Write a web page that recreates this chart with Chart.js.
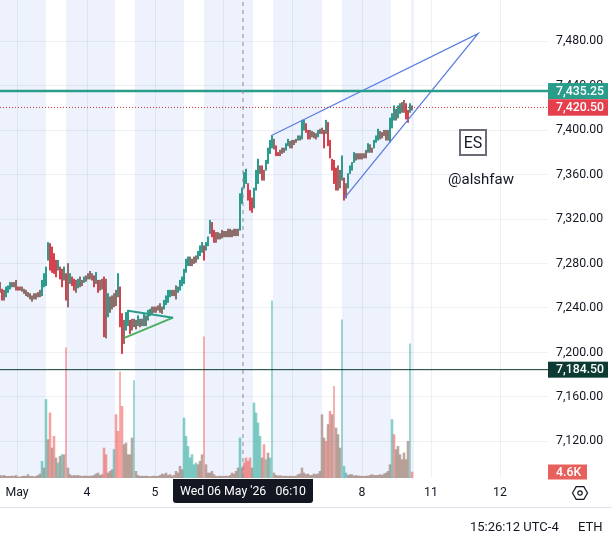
<!DOCTYPE html>
<html>
<head>
<meta charset="utf-8">
<script src="https://cdn.jsdelivr.net/npm/chart.js@4"></script>
<style>
  html, body { margin: 0; padding: 0; background: #fff; width: 612px; height: 534px; overflow: hidden; }
  canvas { position: absolute; left: 0; top: 0; }
  .note { position: absolute; font-family: Roboto, sans-serif; color: #131722; white-space: nowrap; }
  #es { left: 459px; top: 129px; width: 24px; height: 23px; border: 2px solid #6a6d78; font-size: 16px; line-height: 23px; text-align: center; }
  #author { left: 448px; top: 170px; font-size: 15px; }
  #clock { left: 470px; top: 519px; font-size: 13px; }
  #session { left: 578px; top: 519px; font-size: 13px; }
  #rule { position: absolute; left: 0; top: 507px; width: 612px; height: 1px; background: #e0e3eb; }
  #gear { position: absolute; left: 571px; top: 484px; }
</style>
</head>
<body>
<canvas id="myChart" width="612" height="534"></canvas>
<div id="rule"></div>
<div class="note" id="es">ES</div>
<div class="note" id="author">@alshfaw</div>
<div class="note" id="clock">15:26:12 UTC-4</div>
<div class="note" id="session">ETH</div>
<svg id="gear" width="18" height="18" viewBox="0 0 18 18"><path d="M1.5 9 L5.2 2.6 H12.8 L16.5 9 L12.8 15.4 H5.2 Z" fill="none" stroke="#131722" stroke-width="1.2"/><circle cx="9" cy="9" r="2.2" fill="none" stroke="#131722" stroke-width="1.2"/></svg>
<script>
// x axis is the bar number, one bar every two pixels or so
const xTickValues = [8.5, 43.5, 77.5, 111.5, 146, 181, 215.5, 250];
const xTickLabels = ['May', '4', '5', '6', '7', '8', '11', '12'];
const priceTicks = [7120, 7160, 7200, 7240, 7280, 7320, 7360, 7400, 7440, 7480];

const sessionBands = [[0, 23], [33, 57.5], [67.5, 92], [102, 126.5], [136.5, 161], [171, 195.5], [205.5, 207]];

const highs = [
  7263,7257,7256,7259,7260,7263,7263,7263,7265,7259,7259,7259,7257,7256,7254,7253,7251,7253,7253,7254,
  7256,7265,7271,7277,7299,7298,7295,7289,7283,7283,7277,7275,7277,7271,7280,7271,7268,7266,7265,7266,
  7268,7265,7268,7269,7271,7273,7271,7269,7272,7265,7265,7266,7268,7266,7253,7250,7251,7253,7256,7271,
  7259,7235,7229,7236,7238,7229,7230,7230,7229,7233,7230,7230,7235,7233,7238,7239,7241,7241,7241,7242,
  7244,7241,7247,7251,7256,7256,7256,7256,7260,7259,7265,7268,7275,7284,7286,7286,7284,7286,7287,7291,
  7296,7299,7296,7299,7304,7319,7317,7310,7308,7308,7307,7310,7309,7309,7311,7311,7310,7311,7311,7311,
  7343,7348,7362,7365,7352,7346,7339,7348,7364,7374,7368,7368,7364,7373,7384,7391,7395,7392,7386,7380,
  7382,7384,7384,7388,7392,7390,7391,7391,7392,7395,7395,7409,7409,7406,7400,7400,7399,7398,7397,7400,
  7401,7402,7400,7409,7407,7391,7374,7373,7366,7368,7364,7377,7357,7352,7361,7368,7371,7380,7379,7379,
  7379,7379,7379,7382,7388,7387,7384,7391,7395,7401,7399,7398,7400,7400,7400,7411,7415,7422,7419,7422,
  7424,7425,7427,7424,7418,7424,7422
];
const lows = [
  7254,7247,7247,7250,7254,7257,7259,7259,7256,7256,7256,7255,7253,7251,7250,7248,7246,7248,7248,7250,
  7250,7251,7259,7260,7283,7274,7272,7271,7268,7274,7266,7259,7265,7247,7241,7262,7260,7256,7254,7258,
  7259,7260,7263,7264,7266,7266,7265,7259,7262,7254,7256,7257,7214,7213,7232,7236,7239,7241,7242,7250,
  7223,7199,7208,7220,7224,7217,7220,7223,7221,7224,7223,7224,7224,7224,7229,7233,7235,7236,7236,7238,
  7236,7235,7239,7243,7245,7250,7251,7251,7248,7254,7256,7260,7262,7272,7278,7278,7278,7280,7281,7284,
  7287,7290,7283,7292,7296,7307,7304,7299,7299,7302,7302,7303,7304,7304,7304,7304,7304,7305,7305,7305,
  7310,7334,7348,7352,7337,7328,7326,7330,7346,7352,7361,7355,7355,7364,7370,7379,7384,7383,7377,7377,
  7377,7379,7380,7382,7386,7384,7384,7387,7389,7391,7391,7392,7400,7398,7392,7392,7394,7393,7392,7394,
  7397,7397,7384,7397,7386,7375,7364,7352,7346,7346,7348,7355,7337,7339,7348,7361,7364,7371,7373,7374,
  7374,7374,7375,7375,7380,7380,7380,7384,7389,7391,7392,7393,7395,7391,7391,7389,7402,7409,7409,7411,
  7415,7416,7416,7410,7407,7416,7418
];

// volume in thousands
const volumes = [
  2,1.5,2,1.3,1.3,1.3,1.5,1.3,2,0.8,0.8,1.3,1.5,1.3,2.6,1.3,1.3,1,1.3,2,
  3.1,12.8,7.7,60.2,29.4,49.9,23,32,15.4,11.5,16.6,17.9,17.9,99.8,7.7,2.6,1.5,2,1.8,2,
  1.5,1.3,1.5,1.5,1.3,1.5,1.5,2,3.1,3.8,2,2.6,23,17.9,3.8,5.1,6.4,21.8,48.6,35.8,
  81.4,55,25.6,26.9,17.9,17.9,30.7,74.8,5.1,2,1.3,1.5,1.3,1.5,1.3,1,1.3,1.5,1.3,1.3,
  2,3.1,2.6,3.8,2,2.6,1.5,2,5.1,3.8,9,6.4,46,32,24.3,15.4,17.9,10.2,11.5,10.2,
  12.8,17.9,108.3,10.2,3.8,3.8,5.1,2.6,1.3,1.3,1.5,1.3,1.3,1.5,1.3,2,3.8,3.1,5.1,7.7,
  30.7,7.7,11.5,15.4,12.8,15.4,7.7,57.6,49.9,42.2,32,15.4,25.6,14.1,19.2,15.4,135.9,3.8,2,1.5,
  1.8,1.5,1.3,1.5,1.3,1.5,1.3,1.3,1.5,2.6,3.1,7.7,3.8,2.6,3.1,2,2,3.1,2.6,3.1,
  5.1,48.6,30.7,28.2,41,51.2,48.6,70.4,38.4,33.3,23,121.3,9,3.8,2,2.6,2.6,1.5,2,1.5,
  1.5,1.3,1.3,1.5,1.5,2,2.6,2,2,2,2.6,2,3.1,3.8,5.1,10.2,44.8,33.3,21.8,24.3,
  17.9,14.1,19.2,14.1,28.2,102.9,4.6
];
const volumeUpBars = [21,23,29,31,57,67,92,93,94,95,96,97,98,120,127,128,129,130,133,135,136,171,172,173,196,205];
const volumeDownBars = [25,27,33,52,53,58,59,60,61,102,122,123,124,125,132,163,165,167,197,206];

const lastPrice = 7420.50;
const markedHigh = 7435.25;
const markedLow = 7184.50;
const crosshairBar = 121.5;
const wedgeBars = [135.5, 239, 172];
const wedgePrices = [7395, 7487, 7338.4];
const triangleTopBars = [64, 86.5];
const triangleTopPrices = [7237.6, 7231.3];
const triangleLowBars = [62.5, 86.5];
const triangleLowPrices = [7213.3, 7231.3];

const xMax = 274, priceMin = 7087, priceMax = 7517.2, volumeMax = 366.6;
const spikeSize = 70;

// tint from how the mid of the range moved against the bar before
const candleColors = highs.map((h, i) => {
  if (i == 0) return '#8d6e6a';
  const move = (h + lows[i]) / 2 - (highs[i - 1] + lows[i - 1]) / 2;
  if (move > 2) return '#2a9d8f';
  if (move < -2) return '#d9404d';
  return '#8d6e6a';
});
function volumeColor(i) {
  if (volumeUpBars.includes(i)) return 'rgba(38,166,154,0.55)';
  if (volumeDownBars.includes(i)) return 'rgba(239,83,80,0.55)';
  return 'rgba(160,130,120,0.7)';
}

function lineSet(xs, ys, color, width, dash) {
  return {
    type: 'line',
    data: xs.map((x, i) => ({x: x, y: ys[i]})),
    borderColor: color,
    borderWidth: width,
    borderDash: dash || [],
    pointRadius: 0,
    tension: 0,
    fill: false,
    yAxisID: 'y',
    order: 1
  };
}

function volumeSet(keep, thickness) {
  const bars = volumes.map((val, i) => ({x: i, y: val})).filter((p) => keep(p.y));
  return {
    type: 'bar',
    data: bars,
    backgroundColor: bars.map((p) => volumeColor(p.x)),
    barThickness: thickness,
    grouped: false,
    yAxisID: 'v',
    order: 3
  };
}

function priceLabel(v) {
  return v.toLocaleString('en-US', {minimumFractionDigits: 2, maximumFractionDigits: 2});
}

function tag(ctx, x, y, w, h, color, text) {
  ctx.fillStyle = color;
  ctx.fillRect(x, y - h / 2, w, h);
  ctx.fillStyle = '#fff';
  ctx.font = '500 12.3px Roboto';
  ctx.textAlign = 'left';
  ctx.textBaseline = 'middle';
  ctx.fillText(text, x + 8, y + 0.5);
}

function noPadding(axis) {
  axis.paddingTop = 0;
  axis.paddingBottom = 0;
  axis.paddingLeft = 0;
  axis.paddingRight = 0;
}

const bandsPlugin = {
  id: 'bands',
  beforeDraw(chart) {
    const c = chart.ctx, sx = chart.scales.x, area = chart.chartArea;
    c.save();
    c.fillStyle = '#eef2fd';
    sessionBands.forEach((b) => {
      const a = sx.getPixelForValue(b[0]);
      c.fillRect(a, area.top, sx.getPixelForValue(b[1]) - a, area.bottom - area.top);
    });
    c.restore();
  }
};

const tagsPlugin = {
  id: 'tags',
  afterDraw(chart) {
    const c = chart.ctx, y = chart.scales.y, x = chart.scales.x, v = chart.scales.v, area = chart.chartArea;
    c.save();
    tag(c, area.right, y.getPixelForValue(markedHigh), 60, 16, '#2a9d8a', priceLabel(markedHigh));
    tag(c, area.right, y.getPixelForValue(lastPrice), 60, 16.5, '#e53e4d', priceLabel(lastPrice));
    tag(c, area.right, y.getPixelForValue(markedLow), 60, 16, '#0b3b32', priceLabel(markedLow));
    tag(c, area.right, v.getPixelForValue(volumes[volumes.length - 1]), 39, 15, '#e8605b', '4.6K');

    // crosshair time label
    const cx = x.getPixelForValue(crosshairBar);
    c.fillStyle = '#131722';
    c.beginPath();
    c.roundRect(cx - 70, area.bottom + 1, 140, 24, [0, 0, 3, 3]);
    c.fill();
    c.fillStyle = '#fff';
    c.font = '12.3px Roboto';
    c.textAlign = 'center';
    c.textBaseline = 'middle';
    c.fillText("Wed 06 May '26   06:10", cx, area.bottom + 14);
    c.restore();
  }
};

new Chart(document.getElementById('myChart'), {
  data: {
    datasets: [
      lineSet([crosshairBar, crosshairBar], [priceMin, priceMax], '#868993', 1, [4, 4]),
      lineSet([0, xMax], [markedLow, markedLow], '#0b3b32', 1),
      lineSet([0, xMax], [markedHigh, markedHigh], '#2a9d8a', 2.5),
      lineSet([0, xMax], [lastPrice, lastPrice], '#c8323f', 1, [1, 2]),
      lineSet(wedgeBars, wedgePrices, '#5b7fe0', 1.3),
      lineSet(triangleTopBars, triangleTopPrices, '#2a9d8a', 2),
      lineSet(triangleLowBars, triangleLowPrices, '#4caf60', 2),
      {
        type: 'bar',
        data: highs.map((h, i) => ({x: i, y: [lows[i], h]})),
        backgroundColor: candleColors,
        barThickness: 1.4,
        grouped: false,
        yAxisID: 'y',
        order: 2
      },
      volumeSet((val) => val < spikeSize, 1.9),
      volumeSet((val) => val >= spikeSize, 1)
    ]
  },
  options: {
    responsive: false,
    animation: false,
    devicePixelRatio: 1,
    events: [],
    layout: {padding: {left: 0, top: 0, right: 0, bottom: 27}},
    plugins: {legend: {display: false}, tooltip: {enabled: false}},
    scales: {
      x: {
        type: 'linear',
        offset: false,
        min: 0,
        max: xMax,
        border: {display: false},
        grid: {color: 'rgba(50,70,120,0.08)', offset: false, drawTicks: false},
        afterBuildTicks: (axis) => { axis.ticks = xTickValues.map((v) => ({value: v})); },
        afterFit: (axis) => { axis.height = 29; noPadding(axis); },
        ticks: {
          autoSkip: false,
          maxRotation: 0,
          padding: 8,
          color: '#131722',
          font: {family: 'Roboto', size: 12.3},
          callback: (v) => xTickLabels[xTickValues.indexOf(v)]
        }
      },
      y: {
        position: 'right',
        min: priceMin,
        max: priceMax,
        border: {display: false},
        grid: {color: 'rgba(50,70,120,0.08)', drawTicks: false},
        afterBuildTicks: (axis) => { axis.ticks = priceTicks.map((v) => ({value: v})); },
        afterFit: (axis) => { axis.width = 64; noPadding(axis); },
        ticks: {
          padding: 8,
          color: '#131722',
          font: {family: 'Roboto', size: 12.3},
          callback: (v) => priceLabel(v)
        }
      },
      v: {
        display: false,
        min: 0,
        max: volumeMax
      }
    }
  },
  plugins: [bandsPlugin, tagsPlugin]
});
</script>
</body>
</html>
